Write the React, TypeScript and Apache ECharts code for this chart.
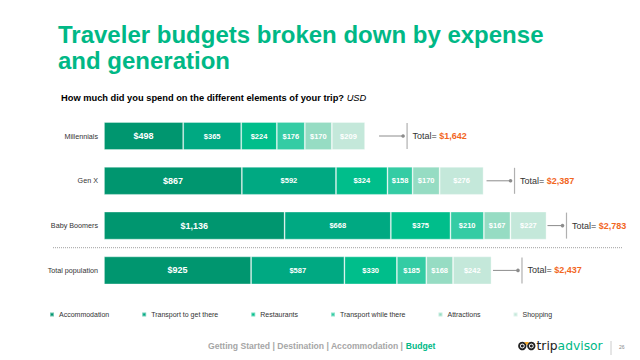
import React, { useEffect, useRef } from "react";
import * as echarts from "echarts";

const categories = ["Millennials", "Gen X", "Baby Boomers", "Total population"];
const seriesNames = [
  "Accommodation",
  "Transport to get there",
  "Restaurants",
  "Transport while there",
  "Attractions",
  "Shopping",
];
const accommodation = [498, 867, 1136, 925];
const transportThere = [365, 592, 668, 587];
const restaurants = [224, 324, 375, 330];
const transportWhile = [176, 158, 210, 185];
const attractions = [170, 170, 167, 168];
const shopping = [209, 276, 227, 242];
const totals = [1642, 2387, 2783, 2437];

// layout of the "Total=" leader lines (pixels, per row)
const leaderGap = [14, 3, 1, 1.5];
const leaderLen = [24, 24, 15, 25];

const colors = ["#00966F", "#00A982", "#00BE8B", "#34CCA4", "#96DCC3", "#C4E8DA"];
const GREEN = "#00B886";
const ORANGE = "#F2661E";
const FONT = "'Liberation Sans', Arial, Helvetica, sans-serif";

const fmt = (v: number) => "$" + v.toLocaleString("en-US");

export default function App() {
  const ref = useRef<HTMLDivElement>(null);
  useEffect(() => {
    if (!ref.current) return;
    const chart = echarts.init(ref.current, undefined, { renderer: "svg" });
    const values = [accommodation, transportThere, restaurants, transportWhile, attractions, shopping];
    const barSeries = values.map((arr, i) => ({
      name: seriesNames[i],
      type: "bar",
      stack: "total",
      barWidth: 28,
      data: arr,
      itemStyle: { color: colors[i], borderColor: "rgba(255,255,255,0.45)", borderWidth: 0.8 },
      label: {
        show: true,
        position: "inside",
        color: "#ffffff",
        fontFamily: FONT,
        fontWeight: "bold",
        fontSize: i === 0 ? 9 : 7.5,
        formatter: (p: any) => fmt(p.value),
      },
    }));
    const totalSeries = {
      type: "custom",
      name: "totals",
      z: 5,
      data: totals.map((t, i) => [t, i]),
      encode: { x: 0, y: 1 },
      renderItem: (params: any, api: any) => {
        const idx = params.dataIndex;
        const v = api.value(0);
        const p = api.coord([v, api.value(1)]);
        const x0 = p[0] + leaderGap[idx];
        const x1 = x0 + leaderLen[idx];
        const xv = x1 + 4;
        return {
          type: "group",
          children: [
            { type: "line", shape: { x1: x0, y1: p[1], x2: x1, y2: p[1] }, style: { stroke: "#8c8c8c", lineWidth: 1 } },
            { type: "circle", shape: { cx: x1, cy: p[1], r: 1.8 }, style: { fill: "#8c8c8c" } },
            { type: "line", shape: { x1: xv, y1: p[1] - 13, x2: xv, y2: p[1] + 13 }, style: { stroke: "#b0b0b0", lineWidth: 1.2 } },
            {
              type: "text",
              style: {
                x: xv + 5.5,
                y: p[1],
                verticalAlign: "middle",
                text: "{a|Total= }{b|" + fmt(v) + "}",
                rich: {
                  a: { fontFamily: FONT, fontSize: 9, fill: "#333333" },
                  b: { fontFamily: FONT, fontSize: 9, fontWeight: "bold", fill: ORANGE },
                },
              },
            },
          ],
        };
      },
    };
    chart.setOption({
      animation: false,
      textStyle: { fontFamily: FONT },
      grid: { left: 104, right: 59, top: 113.6, bottom: 67.2, containLabel: false },
      xAxis: { type: "value", min: 0, max: 3000, show: false },
      yAxis: {
        type: "category",
        data: categories,
        inverse: true,
        axisLine: { show: false },
        axisTick: { show: false },
        axisLabel: { fontSize: 7.2, color: "#333333", margin: 6, fontFamily: FONT },
      },
      legend: {
        data: seriesNames,
        left: 49,
        top: 311,
        padding: 0,
        icon: "rect",
        itemWidth: 4,
        itemHeight: 4,
        itemGap: 32,
        textStyle: { fontSize: 7, color: "#333333", fontFamily: FONT },
      },
      graphic: [
        { type: "text", style: { x: 58, y: 34.5, verticalAlign: "middle", text: "Traveler budgets broken down by expense", font: "bold 24px " + FONT, fill: GREEN } },
        { type: "text", style: { x: 58, y: 60.5, verticalAlign: "middle", text: "and generation", font: "bold 24px " + FONT, fill: GREEN } },
        {
          type: "text",
          style: {
            x: 61,
            y: 97.5,
            verticalAlign: "middle",
            text: "{b|How much did you spend on the different elements of your trip? }{i|USD}",
            rich: {
              b: { fontFamily: FONT, fontSize: 9.3, fontWeight: "bold", fill: "#000000" },
              i: { fontFamily: FONT, fontSize: 9.3, fontStyle: "italic", fill: "#000000" },
            },
          },
        },
        { type: "line", shape: { x1: 53, y1: 247.7, x2: 623, y2: 247.7 }, style: { stroke: "#a0a0a0", lineWidth: 1, lineDash: [1, 1] } },
        {
          type: "text",
          style: {
            x: 208,
            y: 346,
            verticalAlign: "middle",
            text: "{g|Getting Started | Destination | Accommodation | }{b|Budget}",
            rich: {
              g: { fontFamily: FONT, fontSize: 8.6, fontWeight: "bold", fill: "#A6A6A6" },
              b: { fontFamily: FONT, fontSize: 8.6, fontWeight: "bold", fill: GREEN },
            },
          },
        },
        // tripadvisor logo
        { type: "circle", shape: { cx: 522.3, cy: 346, r: 3.3 }, style: { fill: "#ffffff", stroke: "#222222", lineWidth: 1.8 } },
        { type: "circle", shape: { cx: 531.3, cy: 346, r: 3.3 }, style: { fill: "#ffffff", stroke: "#222222", lineWidth: 1.8 } },
        { type: "circle", shape: { cx: 522.3, cy: 346, r: 1.5 }, style: { fill: "#222222" } },
        { type: "circle", shape: { cx: 531.3, cy: 346, r: 1.5 }, style: { fill: "#222222" } },
        { type: "polygon", shape: { points: [[524.5, 342], [529.1, 342], [526.8, 345.2]] }, style: { fill: "#F5A623" } },
        {
          type: "text",
          style: {
            x: 536.5,
            y: 346,
            verticalAlign: "middle",
            text: "{t|trip}{a|advisor}",
            rich: {
              t: { fontFamily: "'DejaVu Sans', sans-serif", fontSize: 12.3, fill: "#222222" },
              a: { fontFamily: "'DejaVu Sans', sans-serif", fontSize: 12.3, fill: GREEN },
            },
          },
        },
        { type: "line", shape: { x1: 611, y1: 341, x2: 611, y2: 355 }, style: { stroke: "#cccccc", lineWidth: 1 } },
        { type: "text", style: { x: 619, y: 347, verticalAlign: "middle", text: "26", font: "5px " + FONT, fill: "#888888" } },
      ],
      series: [...barSeries, totalSeries],
    });
    return () => chart.dispose();
  }, []);
  return <div ref={ref} style={{ position: "fixed", left: 0, top: 0, width: 640, height: 360, background: "#ffffff" }} />;
}
